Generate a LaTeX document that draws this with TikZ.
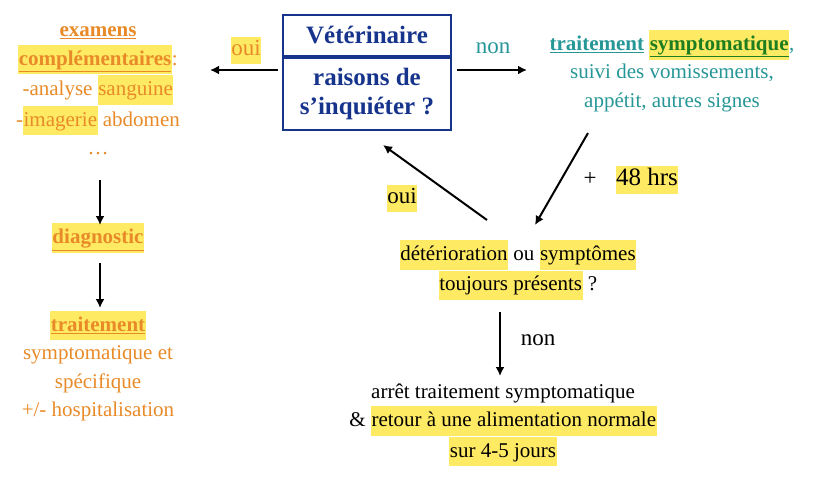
\documentclass[tikz,border=0pt]{standalone}
\usepackage{fontspec}
\setmainfont{Liberation Serif}
\usetikzlibrary{positioning,arrows.meta}
\definecolor{orng}{RGB}{232,138,40}
\definecolor{teal2}{RGB}{38,150,150}
\definecolor{vblue}{RGB}{22,52,140}
\definecolor{vgreen}{RGB}{30,125,30}
\definecolor{hly}{RGB}{255,234,100}
\newcommand{\hl}[1]{{\setlength{\fboxsep}{0.5pt}\colorbox{hly}{\strut #1}}}
\begin{document}
\begin{tikzpicture}[x=1pt,y=-1pt,thick,
  txt/.style={align=center,font=\fontsize{21}{28.5}\selectfont,inner sep=0pt},
  lbl/.style={font=\fontsize{23}{26}\selectfont,inner sep=0pt},
  arr/.style={line width=2pt,-{Latex[length=9pt,width=9pt]}}]
\useasboundingbox (0,0) rectangle (824,483);
% decision box
\node[draw=vblue,line width=2pt,minimum width=168pt,minimum height=41pt,font=\fontsize{25}{27}\bfseries\selectfont,text=vblue] (vet) at (367,35) {Vétérinaire};
\node[draw=vblue,line width=2pt,minimum width=168pt,minimum height=72pt,align=center,font=\fontsize{25}{29}\bfseries\selectfont,text=vblue,below=0pt of vet] (rais) {raisons de\\ s’inquiéter ?};
% left branch
\node[txt,text=orng] (exam) at (98,81) {\underline{\textbf{examens}}\\ \hl{\underline{\textbf{complémentaires}}}:\\ -analyse \hl{sanguine}\\ -\hl{imagerie} abdomen};
\node[txt,text=orng] (dots) at (98,154) {\dots};
\node[txt,text=orng] (diag) at (98,238) {\hl{\underline{\textbf{diagnostic}}}};
\node[txt,text=orng] (trt) at (98,366) {\hl{\underline{\textbf{traitement}}}\\ symptomatique et\\ spécifique\\ +/- hospitalisation};
% right branch
\node[txt,text=teal2] (sympt) at (672,71) {\underline{\textbf{traitement}} \hl{\color{vgreen}\underline{\textbf{symptomatique}}},\\ suivi des vomissements,\\ appétit, autres signes};
\node[txt] (deter) at (518,270) {\hl{détérioration} ou \hl{symptômes}\\ \hl{toujours présents} ?};
\node[txt] (arret) at (503,425) {arrêt traitement symptomatique\\ \& \hl{retour à une alimentation normale}\\ \hl{sur 4-5 jours}};
% labels
\node[lbl,text=orng] (oui1) at (246,50) {\hl{oui}};
\node[lbl,text=teal2] (non1) at (493,48) {non};
\node[lbl] (plus) at (590,179) {+};
\node[lbl,font=\fontsize{25}{27}\selectfont] (hrs) at (647,180) {\hl{48 hrs}};
\node[lbl] (oui2) at (402,198) {\hl{oui}};
\node[lbl] (non2) at (538,340) {non};
% connectors
\coordinate (a1) at (278,70); \coordinate (a2) at (210,70);
\coordinate (b1) at (457,70); \coordinate (b2) at (527,70);
\coordinate (g1) at (100,180); \coordinate (g2) at (100,225);
\coordinate (h1) at (100,263); \coordinate (h2) at (100,308);
\coordinate (c1) at (588,133); \coordinate (c2) at (535,225);
\coordinate (d1) at (487,220); \coordinate (d2) at (383,145);
\coordinate (e1) at (500,312); \coordinate (e2) at (500,376);
\draw[arr] (a1) -- (a2);
\draw[arr] (b1) -- (b2);
\draw[arr] (g1) -- (g2);
\draw[arr] (h1) -- (h2);
\draw[arr] (c1) -- (c2);
\draw[arr] (d1) -- (d2);
\draw[arr] (e1) -- (e2);
\end{tikzpicture}
\end{document}
